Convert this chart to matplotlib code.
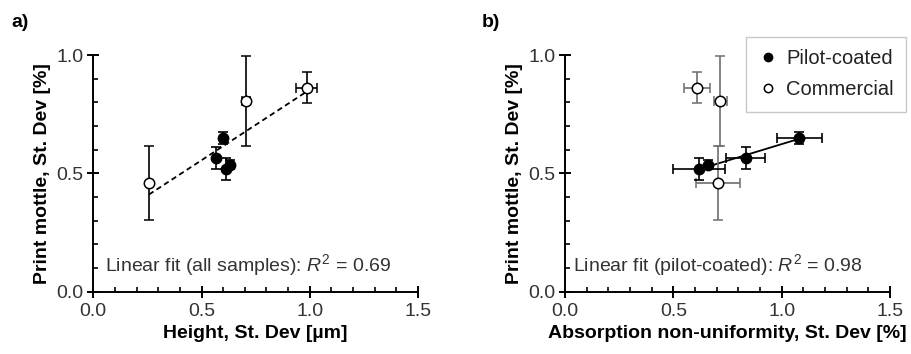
import numpy as np
import matplotlib
matplotlib.use("Agg")
import matplotlib.pyplot as plt
from matplotlib.ticker import MultipleLocator, FormatStrFormatter

### Data ###

# print mottle, shared by both panels
pilot_mottle = [0.651, 0.565, 0.517, 0.537]
pilot_mottle_err = [0.025, 0.045, 0.047, 0.02]
comm_mottle = [0.459, 0.807, 0.862]
comm_mottle_err = [0.155, 0.19, 0.065]

# a) height
pilot_height = [0.597, 0.566, 0.614, 0.63]
comm_height = [0.257, 0.705, 0.985]
comm_height_err = [0.0, 0.02, 0.05]

# b) absorption non-uniformity
pilot_abs = [1.081, 0.834, 0.62, 0.662]
pilot_abs_err = [0.104, 0.09, 0.12, 0.0]
comm_abs = [0.706, 0.717, 0.608]
comm_abs_err = [0.1, 0.03, 0.06]

fit_text_a = "Linear fit (all samples): $R^2$ = 0.69"
fit_text_b = "Linear fit (pilot-coated): $R^2$ = 0.98"

### Style ###

plt.rcParams["font.family"] = ["Liberation Sans", "DejaVu Sans"]
plt.rcParams["mathtext.fontset"] = "custom"
plt.rcParams["mathtext.it"] = "Liberation Sans:italic"
plt.rcParams["mathtext.rm"] = "Liberation Sans"
plt.rcParams["font.size"] = 14

fig = plt.figure(figsize=(9.11, 3.54), dpi=100)
ax1 = fig.add_axes([93.3 / 911, 1 - 291.7 / 354, 324.7 / 911, 236.7 / 354])
ax2 = fig.add_axes([565 / 911, 1 - 291.7 / 354, 325 / 911, 236.7 / 354])


def style_axes(ax):
    ax.set_xlim(0, 1.5)
    ax.set_ylim(0, 1.0)
    ax.spines["top"].set_visible(False)
    ax.spines["right"].set_visible(False)
    for s in ["left", "bottom"]:
        ax.spines[s].set_linewidth(1.4)
    ax.xaxis.set_major_locator(MultipleLocator(0.5))
    ax.xaxis.set_minor_locator(MultipleLocator(0.1))
    ax.yaxis.set_major_locator(MultipleLocator(0.5))
    ax.yaxis.set_minor_locator(MultipleLocator(0.1))
    ax.xaxis.set_major_formatter(FormatStrFormatter("%.1f"))
    ax.yaxis.set_major_formatter(FormatStrFormatter("%.1f"))
    ax.tick_params(which="major", direction="inout", length=8, width=1.4,
                   labelsize=14, colors="black", labelcolor="#333333")
    ax.tick_params(which="minor", direction="in", length=3.5, width=1.2)
    ax.tick_params(axis="x", which="major", pad=4)
    ax.tick_params(axis="y", which="major", pad=3)
    ax.set_ylabel("Print mottle, St. Dev [%]", fontweight="bold", fontsize=14)
    ax.patch.set_alpha(0)


### Panel a ###

ax = ax1
style_axes(ax)
all_x = np.array(pilot_height + comm_height)
all_y = np.array(pilot_mottle + comm_mottle)
z = np.polyfit(all_x, all_y, 1)
xs = np.array([all_x.min(), all_x.max()])
ax.plot(xs, np.polyval(z, xs), color="black", ls=(0, (3, 2)), lw=1.3, zorder=1)
ax.errorbar(comm_height, comm_mottle, yerr=comm_mottle_err, xerr=comm_height_err,
            fmt="o", mfc="white", mec="black", ms=7.5, mew=1.1,
            ecolor="black", elinewidth=1.2, capsize=3.5, capthick=1.2, zorder=3)
ax.errorbar(pilot_height, pilot_mottle, yerr=pilot_mottle_err,
            fmt="o", color="black", ms=7.5,
            ecolor="black", elinewidth=1.2, capsize=3.5, capthick=1.2, zorder=3)
ax.text(0.054, 0.113, fit_text_a, va="center", ha="left", fontsize=14, color="#333333")
ax.set_xlabel("Height, St. Dev [\u00b5m]", fontweight="bold", fontsize=14)

### Panel b ###

ax = ax2
style_axes(ax)
z = np.polyfit(pilot_abs, pilot_mottle, 1)
xs = np.array([min(pilot_abs), max(pilot_abs)])
ax.plot(xs, np.polyval(z, xs), color="black", lw=1.3, zorder=1)
ax.errorbar(comm_abs, comm_mottle, yerr=comm_mottle_err, xerr=comm_abs_err,
            fmt="o", mfc="white", mec="black", ms=7.5, mew=1.1,
            ecolor="#6e6e6e", elinewidth=1.2, capsize=3.5, capthick=1.2, zorder=2)
ax.errorbar(pilot_abs, pilot_mottle, yerr=pilot_mottle_err, xerr=pilot_abs_err,
            fmt="o", color="black", ms=7.5,
            ecolor="black", elinewidth=1.2, capsize=3.5, capthick=1.2, zorder=3)
ax.text(0.037, 0.113, fit_text_b, va="center", ha="left", fontsize=14, color="#333333")
ax.set_xlabel("Absorption non-uniformity, St. Dev [%]", fontweight="bold", fontsize=14)

# legend sits in the top right corner of the figure
h1 = plt.Line2D([], [], marker="o", ls="none", color="black", ms=6)
h2 = plt.Line2D([], [], marker="o", ls="none", mfc="white", mec="black", ms=6, mew=1.1)
leg = ax.legend([h1, h2], ["Pilot-coated", "Commercial"], loc="upper right",
                bbox_to_anchor=(905.7 / 911, 1 - 37.3 / 354), bbox_transform=fig.transFigure,
                borderaxespad=0, fancybox=False, framealpha=1, edgecolor="#c8c8c8",
                handletextpad=0.4, handlelength=1.0, borderpad=0.6, labelspacing=0.6,
                fontsize=14.5)
leg.get_frame().set_linewidth(1.0)
for t in leg.get_texts():
    t.set_color("#222222")

### Panel letters ###

fig.text(11.7 / 911, 1 - 27 / 354, "a)", fontweight="bold", fontsize=14)
fig.text(481.7 / 911, 1 - 27 / 354, "b)", fontweight="bold", fontsize=14)

fig.savefig("out.png", dpi=100)
